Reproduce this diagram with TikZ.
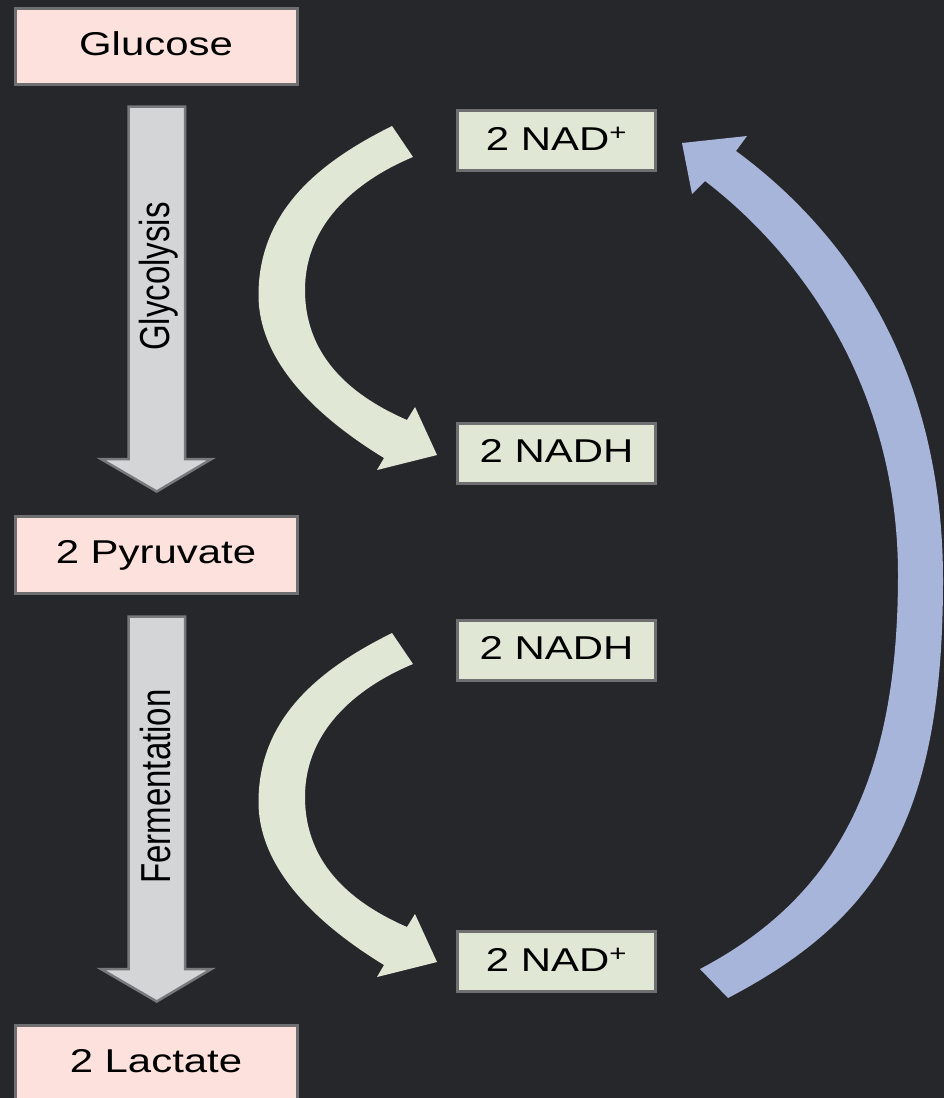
\documentclass[tikz,border=0pt]{standalone}
\usepackage{fontspec}
\setmainfont{Liberation Sans}
\usepackage{graphicx}
\definecolor{bgc}{HTML}{26272B}
\definecolor{pinkc}{HTML}{FDE1DC}
\definecolor{greenc}{HTML}{E0E7D5}
\definecolor{boxline}{HTML}{6F6F71}
\definecolor{grayfill}{HTML}{D4D5D7}
\definecolor{grayline}{HTML}{78797B}
\definecolor{bluec}{HTML}{A8B5DB}
\newcommand\stx[1]{\scalebox{1.27}[1]{#1}}
\tikzset{
  lbl/.style={font=\fontsize{33}{40}\selectfont, text=black},
  pinkbox/.style={draw=boxline, line width=3pt, fill=pinkc, minimum width=282pt,
    minimum height=76pt, inner sep=0pt, text height=23.5pt, text depth=5pt, lbl},
  greenbox/.style={draw=boxline, line width=3pt, fill=greenc, minimum width=198pt,
    minimum height=60pt, inner sep=0pt, text height=23.5pt, text depth=4.5pt, lbl},
  blockarrow/.style={fill=grayfill, draw=grayline, line width=2.5pt, line join=miter},
  grarrow/.pic={
    \fill[greenc] (392,126)
      .. controls (329.4,157.3) and (258.5,205) .. (258.5,295)
      .. controls (258.5,370) and (333,426.8) .. (384,458)
      -- (377,470) -- (437,455) -- (415,407) -- (407,420)
      .. controls (356.4,398) and (305,360) .. (305,290)
      .. controls (305,220) and (362.4,177.9) .. (413,157) -- cycle;
  },
  gbarrow/.pic={
    \draw[blockarrow] (128.7,106.5) -- (185,106.5) -- (185,459) -- (211.5,459) -- (156.7,491.5) -- (101,459) -- (128.7,459) -- cycle;
  }
}
\begin{document}
\begin{tikzpicture}[x=1pt,y=-1pt]
\useasboundingbox (0,0) rectangle (944,1098);
\clip (0,0) rectangle (944,1098);
\fill[bgc] (0,0) rectangle (944,1098);

% block arrows
\pic at (0,0) {gbarrow};
\pic at (0,510) {gbarrow};
\node[lbl, inner sep=0pt] (glyc) at (159,276.7) {\stx{\rotatebox{90}{\rule[-6.9pt]{0pt}{24.7pt}Glycolysis}}};
\node[lbl, inner sep=0pt] (ferm) at (160,786.5) {\stx{\rotatebox{90}{\rule[-6.9pt]{0pt}{24.7pt}Fermentation}}};

% green curved arrows
\pic at (0,0) {grarrow};
\pic at (0,507) {grarrow};

% blue return arrow
\fill[bluec] (700,969)
  .. controls (833,899) and (898,785) .. (898,575)
  .. controls (898,395) and (808,260) .. (705,181)
  -- (692,194) -- (682,143) -- (747,136) -- (736,151)
  .. controls (857,240) and (943,380) .. (943,580)
  .. controls (943,820) and (878.6,919) .. (728,998) -- cycle;

% boxes
\node[pinkbox] (glucose) at (156,46) {\stx{Glucose}};
\node[pinkbox, minimum height=77pt] (pyruvate) at (156,554.5) {\stx{2 Pyruvate}};
\node[pinkbox] (lactate) at (156,1063.5) {\stx{2 Lactate}};
\node[greenbox] (nad1) at (556.5,140.5) {\stx{2 NAD\textsuperscript{+}}};
\node[greenbox] (nadh1) at (556.5,453) {\stx{2 NADH}};
\node[greenbox] (nadh2) at (556.5,650) {\stx{2 NADH}};
\node[greenbox] (nad2) at (556.5,961.5) {\stx{2 NAD\textsuperscript{+}}};
\end{tikzpicture}
\end{document}
